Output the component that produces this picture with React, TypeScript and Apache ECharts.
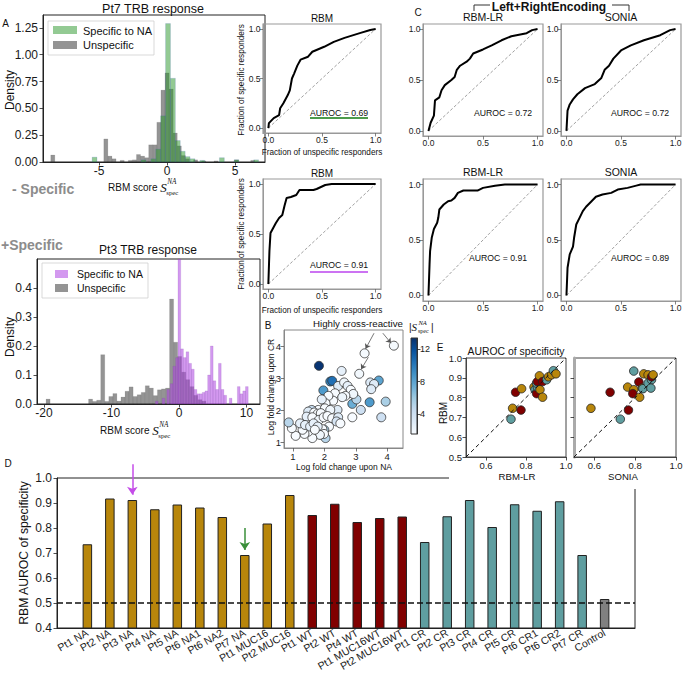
import React, { useEffect, useRef } from "react";
import * as echarts from "echarts";

const FONT = '"Liberation Sans", Arial, sans-serif';
const SERIF = '"Liberation Serif", "DejaVu Serif", serif';

// ---------- Panel A (top): Pt7 TRB response ----------
const pt7UnspecCenters = [-8.4, -4.5, -4.2, -3.9, -3.3, -2.7, -2.4, -2.1, -1.8, -1.5, -1.2, -0.9, -0.6, -0.3, 0.0, 0.3, 0.6, 0.9, 1.2, 1.5, 2.1, 2.7, 3.6, 5.1, 6.3];
const pt7UnspecDensity = [0.065, 0.215, 0.055, 0.03, 0.015, 0.015, 0.02, 0.07, 0.055, 0.04, 0.16, 0.16, 0.37, 0.67, 0.83, 0.68, 0.27, 0.15, 0.06, 0.03, 0.02, 0.01, 0.01, 0.02, 0.015];
const pt7SpecCenters = [-5.33, -1.73, -1.01, -0.65, -0.29, 0.07, 0.43, 0.79, 1.15, 1.51, 1.87, 2.59, 4.03, 5.11, 6.55];
const pt7SpecDensity = [0.045, 0.02, 0.03, 0.12, 0.43, 1.29, 0.78, 0.2, 0.1, 0.05, 0.03, 0.015, 0.04, 0.02, 0.02];
const pt7YTicks = [0, 0.25, 0.5, 0.75, 1.0, 1.25];

// ---------- Panel A (bottom): Pt3 TRB response ----------
const pt3UnspecCenters = [-19.4, -13.1, -12.5, -11.9, -11.3, -10.7, -10.1, -9.5, -8.9, -8.3, -7.7, -7.1, -6.5, -5.9, -5.3, -4.7, -4.1, -3.5, -2.9, -2.3, -1.7, -1.1, -0.5, 0.1, 0.7, 1.3, 1.9, 2.5, 3.1, 3.7];
const pt3UnspecDensity = [0.017, 0.017, 0.009, 0.013, 0.17, 0.009, 0.026, 0.036, 0.01, 0.024, 0.044, 0.059, 0.026, 0.032, 0.04, 0.063, 0.055, 0.029, 0.049, 0.052, 0.055, 0.362, 0.213, 0.164, 0.11, 0.084, 0.06, 0.03, 0.015, 0.01];
const pt3SpecCenters = [-3.3, -2.3, -1.6, -1.1, -0.7, -0.3, 0.05, 0.45, 0.85, 1.25, 1.65, 2.05, 2.45, 2.85, 3.25, 3.65, 4.05, 4.45, 4.85, 5.25, 5.65, 6.05, 6.45, 6.85, 7.65, 8.85, 9.25, 9.65, 10.05];
const pt3SpecDensity = [0.01, 0.02, 0.05, 0.07, 0.13, 0.16, 0.6, 0.19, 0.16, 0.18, 0.14, 0.12, 0.05, 0.035, 0.035, 0.04, 0.045, 0.1, 0.2, 0.08, 0.05, 0.14, 0.05, 0.03, 0.02, 0.06, 0.035, 0.045, 0.06];

// ---------- ROC curves ----------
const rocDiag = [[0, 0], [1, 1]];
const rocRbmPt7 = [[0, 0], [0.005, 0.05], [0.05, 0.1], [0.1, 0.13], [0.11, 0.2], [0.14, 0.25], [0.18, 0.33], [0.2, 0.38], [0.22, 0.5], [0.24, 0.55], [0.27, 0.63], [0.3, 0.69], [0.37, 0.72], [0.41, 0.77], [0.52, 0.82], [0.61, 0.87], [0.71, 0.91], [0.86, 0.96], [0.95, 0.99], [1, 1]];
const rocRbmPt3 = [[0, 0], [0.006, 0.2], [0.01, 0.33], [0.02, 0.51], [0.045, 0.56], [0.07, 0.61], [0.1, 0.66], [0.13, 0.69], [0.15, 0.78], [0.17, 0.86], [0.21, 0.87], [0.26, 0.89], [0.29, 0.94], [0.42, 0.94], [0.45, 0.95], [0.49, 0.97], [0.53, 0.99], [0.59, 1.0], [1, 1]];
const rocLrPt7 = [[0, 0], [0.02, 0.08], [0.05, 0.15], [0.06, 0.3], [0.1, 0.33], [0.12, 0.4], [0.15, 0.45], [0.21, 0.5], [0.24, 0.53], [0.26, 0.6], [0.29, 0.64], [0.35, 0.68], [0.38, 0.71], [0.41, 0.76], [0.5, 0.8], [0.58, 0.84], [0.67, 0.89], [0.76, 0.93], [0.9, 0.96], [0.95, 0.99], [1, 1]];
const rocSoniaPt7 = [[0, 0], [0.01, 0.2], [0.03, 0.26], [0.06, 0.31], [0.1, 0.36], [0.17, 0.42], [0.26, 0.46], [0.32, 0.52], [0.35, 0.6], [0.39, 0.64], [0.43, 0.71], [0.5, 0.79], [0.59, 0.84], [0.71, 0.89], [0.86, 0.94], [0.95, 0.99], [1, 1]];
const rocLrPt3 = [[0, 0], [0.01, 0.28], [0.015, 0.4], [0.03, 0.52], [0.05, 0.6], [0.08, 0.655], [0.09, 0.7], [0.1, 0.775], [0.14, 0.82], [0.18, 0.85], [0.21, 0.856], [0.24, 0.88], [0.27, 0.925], [0.32, 0.946], [0.45, 0.946], [0.5, 0.97], [0.61, 0.99], [0.7, 1.0], [1, 1]];
const rocSoniaPt3 = [[0, 0], [0.01, 0.25], [0.03, 0.37], [0.06, 0.44], [0.07, 0.52], [0.09, 0.64], [0.12, 0.7], [0.15, 0.76], [0.18, 0.8], [0.23, 0.85], [0.27, 0.89], [0.33, 0.91], [0.41, 0.925], [0.47, 0.955], [0.56, 0.97], [0.64, 0.99], [0.68, 1.0], [1, 1]];
const rocTicks = [0, 0.5, 1.0];

// ---------- Panel B: log fold changes [NA, CR, |S|] ----------
const bPoints = [
  [4.21, 4.03, 1.6], [3.28, 3.79, 1.6], [3.11, 3.15, 1.8], [1.83, 3.4, 13.2], [1.97, 2.63, 8.5], [2.19, 2.91, 9.5], [2.25, 2.93, 10.5],
  [3.73, 2.94, 8.0], [3.44, 2.26, 8.5], [2.89, 2.21, 7.5], [3.95, 2.28, 5.5], [3.02, 2.35, 5.0], [3.16, 2.02, 4.0], [3.81, 1.79, 4.0],
  [3.46, 2.88, 3.0], [3.58, 2.83, 3.0], [3.49, 2.67, 3.0], [2.55, 3.24, 2.5], [2.44, 2.77, 3.0], [2.63, 2.88, 2.0], [2.74, 2.77, 2.5],
  [2.34, 2.54, 1.5], [2.84, 2.65, 1.5], [2.92, 2.52, 2.0], [2.67, 2.46, 1.5], [2.57, 2.42, 2.0], [2.89, 1.79, 1.5], [2.42, 2.02, 3.0],
  [2.28, 2.31, 1.5], [2.13, 2.46, 1.5], [2.04, 2.23, 1.5], [1.92, 2.35, 2.5], [1.81, 2.02, 1.5], [2.02, 2.07, 1.5], [2.19, 2.02, 2.0],
  [1.6, 2.02, 4.5], [1.49, 1.97, 3.0], [1.68, 1.94, 1.5], [1.79, 1.9, 1.5], [1.89, 1.92, 1.5], [1.44, 1.81, 2.5], [1.62, 1.79, 1.5],
  [1.83, 1.71, 2.0], [1.98, 1.79, 1.5], [2.1, 1.83, 1.5], [2.25, 1.76, 1.5], [2.44, 1.79, 3.0], [2.39, 1.66, 3.5], [2.51, 1.6, 1.5],
  [2.15, 1.5, 1.5], [2.0, 1.4, 5.5], [1.83, 1.38, 4.5], [2.04, 1.14, 5.0], [1.94, 1.42, 1.5], [1.99, 1.27, 1.5], [1.86, 1.24, 2.0],
  [1.62, 1.14, 1.5], [1.49, 1.34, 1.5], [1.37, 1.27, 1.5], [1.09, 1.21, 1.5], [1.31, 1.4, 1.5], [1.23, 1.6, 2.5], [1.39, 1.55, 2.5],
  [0.97, 1.45, 1.5], [0.87, 1.63, 5.0], [1.55, 1.5, 2.5], [1.66, 1.6, 2.5], [1.79, 1.5, 2.5], [1.7, 1.4, 1.5],
];
const bTicks = [1, 2, 3, 4];
const cbarTicks = [4, 8, 12];

// ---------- Panel D: RBM AUROC of specificity ----------
const dCategories = ["Pt1 NA", "Pt2 NA", "Pt3 NA", "Pt4 NA", "Pt5 NA", "Pt6 NA1", "Pt6 NA2", "Pt7 NA", "Pt1 MUC16", "Pt2 MUC16", "Pt1 WT", "Pt2 WT", "Pt4 WT", "Pt1 MUC16WT", "Pt2 MUC16WT", "Pt1 CR", "Pt2 CR", "Pt3 CR", "Pt4 CR", "Pt5 CR", "Pt6 CR1", "Pt6 CR2", "Pt7 CR", "Control"];
const dValues = [0.735, 0.918, 0.912, 0.875, 0.894, 0.882, 0.844, 0.692, 0.818, 0.932, 0.852, 0.897, 0.824, 0.84, 0.846, 0.744, 0.847, 0.912, 0.804, 0.895, 0.869, 0.907, 0.692, 0.516];
const dGroups = [0, 0, 0, 0, 0, 0, 0, 0, 0, 0, 1, 1, 1, 1, 1, 2, 2, 2, 2, 2, 2, 2, 2, 3];
const dTicks = [0.4, 0.5, 0.6, 0.7, 0.8, 0.9, 1.0];
const dArrows = [[2, 1.055, 0.933], [7, 0.8, 0.712]];
const dArrowColors = ["#c44de8", "#3a8f3a"];

// ---------- Panel E: [other model AUROC, RBM AUROC, group] ----------
const eRbmLr = [[0.725, 0.691, 2], [0.733, 0.746, 0], [0.748, 0.827, 1], [0.775, 0.737, 1], [0.778, 0.845, 0], [0.84, 0.853, 0], [0.845, 0.84, 2], [0.853, 0.82, 1], [0.857, 0.853, 2], [0.853, 0.873, 2], [0.857, 0.881, 1], [0.867, 0.91, 0], [0.87, 0.84, 0], [0.883, 0.802, 0], [0.883, 0.881, 1], [0.903, 0.89, 2], [0.912, 0.905, 0], [0.928, 0.915, 0], [0.937, 0.936, 2], [0.95, 0.92, 0]];
const eSonia = [[0.583, 0.746, 0], [0.677, 0.827, 1], [0.727, 0.691, 2], [0.767, 0.737, 1], [0.763, 0.853, 0], [0.793, 0.934, 2], [0.793, 0.84, 0], [0.788, 0.82, 1], [0.818, 0.879, 1], [0.822, 0.802, 0], [0.835, 0.848, 0], [0.838, 0.845, 2], [0.842, 0.92, 0], [0.863, 0.915, 0], [0.863, 0.873, 2], [0.88, 0.89, 2], [0.88, 0.905, 1], [0.888, 0.915, 0], [0.877, 0.848, 2]];
const eDiag = [[0.5, 0.5], [1, 1]];
const eXTicks = [0.6, 0.8, 1.0];
const eYTicks = [0.5, 0.6, 0.7, 0.8, 0.9, 1.0];

const BLUES = ["#f7fbff", "#deebf7", "#c6dbef", "#9ecae1", "#6baed6", "#4292c6", "#2171b5", "#08519c", "#08306b"];
const GROUP_COLORS = ["#b8860b", "#800000", "#5f9ea0", "#808080"];

let _ctx: CanvasRenderingContext2D | null = null;
function measure(t: string, font: string) {
  if (!_ctx) _ctx = document.createElement("canvas").getContext("2d");
  if (!_ctx) return t.length * 5;
  _ctx.font = font;
  return _ctx.measureText(t).width;
}

function T(text: string, x: number, y: number, o: any = {}) {
  const align = o.align || "center";
  const valign = o.valign || "middle";
  return {
    type: "text", x, y, rotation: o.rot || 0, z: o.z || 100,
    style: {
      text, fill: o.color || "#111", fontSize: o.fs || 10, fontFamily: o.family || FONT,
      fontWeight: o.weight || "normal", fontStyle: o.style || "normal",
      align, verticalAlign: valign, textAlign: align, textVerticalAlign: valign,
    },
  };
}

function L(x1: number, y1: number, x2: number, y2: number, stroke = "#333", lw = 1) {
  return { type: "line", z: 90, shape: { x1, y1, x2, y2 }, style: { stroke, lineWidth: lw } };
}

function R(x: number, y: number, w: number, h: number, fill: string, stroke?: string, z = 95) {
  return { type: "rect", z, shape: { x, y, width: w, height: h, r: 0 }, style: { fill, stroke: stroke || "none", lineWidth: 0.8 } };
}

function scoreLabel(x: number, y: number, fs: number) {
  const w1 = measure("RBM score ", `${fs}px ${FONT}`);
  const sFs = fs * 1.3;
  const wS = measure("S", `italic ${sFs}px ${SERIF}`);
  return [
    T("RBM score ", x, y, { fs, align: "left" }),
    T("S", x + w1, y, { fs: sFs, family: SERIF, style: "italic", align: "left" }),
    T("NA", x + w1 + wS + 0.5, y - fs * 0.5, { fs: fs * 0.72, family: SERIF, style: "italic", align: "left" }),
    T("spec", x + w1 + wS - 0.5, y + fs * 0.5, { fs: fs * 0.68, family: SERIF, align: "left" }),
  ];
}

function axis(gridIndex: number, min: number, max: number, ticks: number[] | null, o: any = {}) {
  return {
    type: "value", gridIndex, min, max, position: o.position, show: o.show !== false,
    axisLine: { show: true, onZero: false, lineStyle: { color: o.lineColor || "#222", width: o.lineWidth || 1 } },
    axisTick: { show: !!ticks && o.tick !== false, length: o.tickLen || 3.5, customValues: ticks || [], lineStyle: { color: o.tickColor || "#222", width: 0.8 } },
    axisLabel: {
      show: !!ticks && o.label !== false, customValues: ticks || [], formatter: o.fmt || ((v: number) => String(v)),
      fontSize: o.fs || 9, color: "#1a1a1a", margin: o.margin ?? 3, fontFamily: FONT, rotate: o.rotate || 0,
      hideOverlap: false, showMinLabel: true, showMaxLabel: true,
    },
    splitLine: { show: false }, splitArea: { show: false },
  };
}

function histSeries(gi: number, centers: number[], dens: number[], width: number, fill: string, stroke: string) {
  return {
    type: "custom", xAxisIndex: gi, yAxisIndex: gi, silent: true, z: 2,
    data: centers.map((c, i) => [c, dens[i]]),
    encode: { x: 0, y: 1 },
    renderItem: (params: any, api: any) => {
      const c = api.value(0);
      const h = api.value(1);
      const a = api.coord([c - width / 2, h]);
      const b = api.coord([c + width / 2, 0]);
      const cs = params.coordSys;
      const shape = echarts.graphic.clipRectByRect(
        { x: a[0], y: a[1], width: b[0] - a[0], height: b[1] - a[1] },
        { x: cs.x, y: cs.y, width: cs.width, height: cs.height }
      );
      if (!shape) return null;
      return { type: "rect", shape, style: { fill, stroke, lineWidth: 0.5 } };
    },
  };
}

const f1 = (v: number) => v.toFixed(1);
const f2 = (v: number) => Number(v).toFixed(2);

// grid boxes: left, top, width, height, border colour
const GRID_BOXES: any[] = [
  [43, 15, 222, 147, "#222"],   // 0 hist top
  [37, 259, 223, 145, "#222"],  // 1 hist bottom
  [263, 24, 118, 109, "#999"],  // 2 roc rbm top
  [263, 179, 118, 110, "#999"], // 3 roc rbm bottom
  [423, 24, 120, 112, "#999"],  // 4 LR top
  [561, 24, 120, 112, "#999"],  // 5 SONIA top
  [423, 179, 120, 122, "#999"], // 6 LR bottom
  [561, 179, 120, 122, "#999"], // 7 SONIA bottom
  [284, 330, 119, 118, "#888"], // 8 B
  [411, 338, 6, 96, "#333"],    // 9 colorbar
  [466, 358, 100, 99, "#444"],  // 10 E left
  [574, 358, 102, 99, "#444"],  // 11 E right
  [57, 478, 578, 150, "#222"],  // 12 D
];
const PT7_YMAX = 1.37;

function buildOption() {
  const grid = GRID_BOXES.map((g: any, i) => ({
    left: g[0], top: g[1], width: g[2], height: g[3], show: true, borderColor: g[4],
    borderWidth: i >= 2 && i <= 7 ? 1.2 : 1, containLabel: false, outerBoundsMode: "none",
    backgroundColor: i === 9
      ? new echarts.graphic.LinearGradient(0, 1, 0, 0, BLUES.map((c, k) => ({ offset: k / (BLUES.length - 1), color: c })))
      : "transparent",
  }));

  const rocX = (gi: number) => axis(gi, -0.05, 1.05, rocTicks, { position: "bottom", fmt: f1, fs: 8.5, lineColor: "#999", tickColor: "#666", margin: 2.5 });
  const rocY = (gi: number) => axis(gi, -0.05, 1.05, rocTicks, { position: "left", fmt: f1, fs: 8.5, lineColor: "#999", tickColor: "#666", margin: 2.5 });

  const xAxis = [
    axis(0, -9.12, 7.2, [-5, 0, 5], { position: "bottom", fs: 12, margin: 3 }),
    axis(1, -21.04, 12.0, [-20, -10, 0, 10], { position: "bottom", fs: 12, margin: 3 }),
    rocX(2), rocX(3), rocX(4), rocX(5), rocX(6), rocX(7),
    axis(8, 0.72, 4.5, bTicks, { position: "bottom", fs: 9.5, lineColor: "#888", tickColor: "#555", margin: 3 }),
    axis(9, 0, 1, null, { position: "bottom", show: false }),
    axis(10, 0.5, 1.0, eXTicks, { position: "bottom", fmt: f1, fs: 9.5, lineColor: "#444", margin: 3 }),
    axis(11, 0.5, 1.0, eXTicks, { position: "bottom", fmt: f1, fs: 9.5, lineColor: "#444", margin: 3 }),
    axis(12, -1.35, 24.35, dCategories.map((_, i) => i), {
      position: "bottom", fmt: (v: number) => dCategories[Math.round(v)] || "", fs: 10.5, rotate: 30, margin: 4, lineColor: "#222", tick: false,
    }),
  ];
  const yAxis = [
    axis(0, 0, PT7_YMAX, pt7YTicks, { position: "left", fmt: f2, fs: 12, margin: 5 }),
    axis(1, 0, 0.5, [0, 0.1, 0.2, 0.3, 0.4], { position: "left", fmt: f1, fs: 12, margin: 5 }),
    rocY(2), rocY(3), rocY(4), rocY(5), rocY(6), rocY(7),
    axis(8, 0.83, 4.52, bTicks, { position: "left", fs: 9.5, lineColor: "#888", tickColor: "#555", margin: 3 }),
    axis(9, 1.5, 13.4, cbarTicks, { position: "right", fs: 9, margin: 3, lineColor: "#333" }),
    axis(10, 0.5, 1.0, eYTicks, { position: "left", fmt: f1, fs: 9.5, lineColor: "#444", margin: 4 }),
    axis(11, 0.5, 1.0, [0.6, 0.7, 0.8, 0.9], { position: "left", label: false, lineColor: "#aaa", lineWidth: 3 }),
    axis(12, 0.4, 1.0, dTicks, { position: "left", fmt: f1, fs: 12, margin: 5 }),
  ];

  const series: any[] = [];
  series.push(histSeries(0, pt7UnspecCenters, pt7UnspecDensity, 0.3, "rgba(60,60,60,0.55)", "rgba(60,60,60,0.2)"));
  series.push(histSeries(0, pt7SpecCenters, pt7SpecDensity, 0.36, "rgba(40,150,40,0.5)", "rgba(70,100,200,0.35)"));
  series.push(histSeries(1, pt3UnspecCenters, pt3UnspecDensity, 0.6, "rgba(60,60,60,0.55)", "rgba(60,60,60,0.2)"));
  series.push(histSeries(1, pt3SpecCenters, pt3SpecDensity, 0.4, "rgba(175,70,225,0.55)", "rgba(120,60,170,0.3)"));

  const rocs: [number, number[][]][] = [[2, rocRbmPt7], [3, rocRbmPt3], [4, rocLrPt7], [5, rocSoniaPt7], [6, rocLrPt3], [7, rocSoniaPt3]];
  rocs.forEach(([gi, data]) => {
    series.push({
      type: "line", xAxisIndex: gi, yAxisIndex: gi, data: rocDiag, symbol: "none", silent: true,
      lineStyle: { color: "#777", width: 0.7, type: [3, 2] },
    });
    series.push({
      type: "line", xAxisIndex: gi, yAxisIndex: gi, data, symbol: "none", silent: true,
      lineStyle: { color: "#000", width: 2 },
    });
  });

  const bIdx = series.length;
  series.push({
    type: "scatter", xAxisIndex: 8, yAxisIndex: 8, data: bPoints, symbolSize: 9, silent: true,
    itemStyle: { borderColor: "#333", borderWidth: 0.8, opacity: 1 },
    markLine: {
      silent: true, symbol: ["none", "arrow"], symbolSize: 5, label: { show: false },
      lineStyle: { color: "#555", width: 0.8, type: "solid" },
      data: [
        [{ coord: [3.86, 4.42] }, { coord: [4.12, 4.11] }],
        [{ coord: [3.58, 4.42] }, { coord: [3.31, 3.93] }],
        [{ coord: [3.4, 3.67] }, { coord: [3.17, 3.29] }],
      ],
    },
  });

  [[10, eRbmLr], [11, eSonia]].forEach(([gi, data]: any) => {
    series.push({
      type: "line", xAxisIndex: gi, yAxisIndex: gi, data: eDiag, symbol: "none", silent: true,
      lineStyle: { color: "#111", width: 1, type: [4, 3] },
    });
    series.push({
      type: "scatter", xAxisIndex: gi, yAxisIndex: gi, data, symbolSize: 8.5, silent: true,
      itemStyle: { color: (p: any) => GROUP_COLORS[p.data[2]], borderColor: "#222", borderWidth: 0.8, opacity: 1 },
    });
  });

  series.push({
    type: "bar", xAxisIndex: 12, yAxisIndex: 12, barWidth: 9.5, silent: true,
    data: dValues.map((v, i) => ({ value: [i, v], itemStyle: { color: GROUP_COLORS[dGroups[i]], borderColor: "#222", borderWidth: 1 } })),
    markLine: {
      silent: true, symbol: ["none", "none"], label: { show: false },
      data: [{ yAxis: 0.5, lineStyle: { color: "#111", width: 1.5, type: [6, 3] } }],
    },
  });
  series.push({
    type: "lines", coordinateSystem: "cartesian2d", xAxisIndex: 12, yAxisIndex: 12, clip: false, silent: true, z: 5,
    symbol: ["none", "arrow"], symbolSize: 8,
    lineStyle: { width: 1.5, opacity: 1, curveness: 0 },
    data: dArrows.map(([i, y0, y1], k) => ({ coords: [[i, y0], [i, y1]], lineStyle: { color: dArrowColors[k], width: 1.5, opacity: 1 } })),
  });

  const gray = "#8c8c8c";
  const graphic: any[] = [
    // panel A top
    T("A", 5.5, 23, { fs: 10 }),
    T("Pt7 TRB response", 153, 8.5, { fs: 12.5 }),
    T("Density", 10, 90, { fs: 12, rot: Math.PI / 2 }),
    ...scoreLabel(108, 187, 10),
    R(48, 21, 106, 34, "rgba(255,255,255,0.85)", "#cfcfcf", 94),
    R(53, 26, 24, 8, "rgba(40,150,40,0.5)"),
    R(53, 41, 24, 8, "rgba(60,60,60,0.55)"),
    T("Specific to NA", 83, 30.5, { fs: 11, align: "left" }),
    T("Unspecific", 83, 45, { fs: 11, align: "left" }),
    T("- Specific", 12, 189, { fs: 14, weight: "bold", color: gray, align: "left" }),
    T("+Specific", 1, 245, { fs: 14, weight: "bold", color: gray, align: "left" }),
    // panel A bottom
    T("Pt3 TRB response", 148, 250, { fs: 12 }),
    T("Density", 10, 337, { fs: 12, rot: Math.PI / 2 }),
    ...scoreLabel(100, 430, 10),
    R(42, 263, 106, 35, "rgba(255,255,255,0.85)", "#cfcfcf", 94),
    R(55, 270, 13, 8, "rgba(175,70,225,0.55)"),
    R(55, 284, 13, 8, "rgba(60,60,60,0.55)"),
    T("Specific to NA", 77, 274, { fs: 10.5, align: "left" }),
    T("Unspecific", 77, 288, { fs: 10.5, align: "left" }),
    // RBM ROC panels
    T("RBM", 322, 18, { fs: 10 }),
    T("RBM", 322, 173, { fs: 10 }),
    T("Fraction of specific responders", 241, 80, { fs: 8.2, rot: Math.PI / 2 }),
    T("Fraction of specific responders", 241, 234, { fs: 8.2, rot: Math.PI / 2 }),
    T("Fraction of unspecific responders", 322, 152, { fs: 8.2 }),
    T("Fraction of unspecific responders", 322, 310, { fs: 8.2 }),
    T("AUROC = 0.69", 339, 113, { fs: 8.7 }),
    L(310, 118, 368, 118, "#117a11", 1.5),
    T("AUROC = 0.91", 339, 265, { fs: 8.7 }),
    L(310, 272, 368, 272, "#bb44ee", 1.5),
    // panel C
    T("C", 418, 12, { fs: 10 }),
    T("Left+RightEncoding", 549, 6.5, { fs: 12, weight: "bold" }),
    L(474, 5, 490, 5), L(474, 5, 474, 11), L(612, 5, 629, 5), L(629, 5, 629, 11),
    T("RBM-LR", 483, 17, { fs: 10.5 }),
    T("SONIA", 621, 17, { fs: 10.5 }),
    T("RBM-LR", 483, 172, { fs: 10.5 }),
    T("SONIA", 621, 172, { fs: 10.5 }),
    T("AUROC = 0.72", 503, 113, { fs: 8.7 }),
    T("AUROC = 0.72", 640, 113, { fs: 8.7 }),
    T("AUROC = 0.91", 498, 258, { fs: 8.7 }),
    T("AUROC = 0.89", 640, 258, { fs: 8.7 }),
    // panel B
    T("B", 268, 325, { fs: 10 }),
    T("Highly cross-reactive", 358, 323, { fs: 9.7 }),
    T("Log fold change upon CR", 270.5, 387, { fs: 8.5, rot: Math.PI / 2 }),
    T("Log fold change upon NA", 344, 467, { fs: 8.5 }),
    T("|", 409, 327, { fs: 10, align: "left" }),
    T("S", 411.5, 327, { fs: 11, family: SERIF, style: "italic", align: "left" }),
    T("NA", 418.5, 322.5, { fs: 6.5, family: SERIF, style: "italic", align: "left" }),
    T("spec", 418, 331, { fs: 6, family: SERIF, align: "left" }),
    T("|", 431, 327, { fs: 10, align: "left" }),
    // panel E
    T("E", 440, 347, { fs: 10 }),
    T("AUROC of specificity", 516, 351, { fs: 10.4 }),
    T("RBM", 443.5, 413, { fs: 10, rot: Math.PI / 2 }),
    R(449, 471, 192, 18, "#ffffff", undefined, 50),
    T("RBM-LR", 517, 476, { fs: 9.6 }),
    T("SONIA", 623, 476, { fs: 9.6 }),
    // panel D
    T("D", 8, 463, { fs: 10 }),
    T("RBM AUROC of specificity", 24, 553, { fs: 12.2, rot: Math.PI / 2 }),
  ];

  return {
    animation: false,
    backgroundColor: "#ffffff",
    textStyle: { fontFamily: FONT },
    grid, xAxis, yAxis, series,
    visualMap: [{
      type: "continuous", show: false, min: 1.5, max: 13.4, dimension: 2, seriesIndex: bIdx,
      inRange: { color: BLUES },
    }],
    graphic: { elements: graphic },
  };
}

export default function App() {
  const ref = useRef<HTMLDivElement>(null);
  useEffect(() => {
    if (!ref.current) return;
    const chart = echarts.init(ref.current, null, { renderer: "svg" });
    chart.setOption(buildOption() as any);
    return () => chart.dispose();
  }, []);
  return <div ref={ref} style={{ position: "absolute", left: 0, top: 0, width: 683, height: 677, background: "#fff" }} />;
}
